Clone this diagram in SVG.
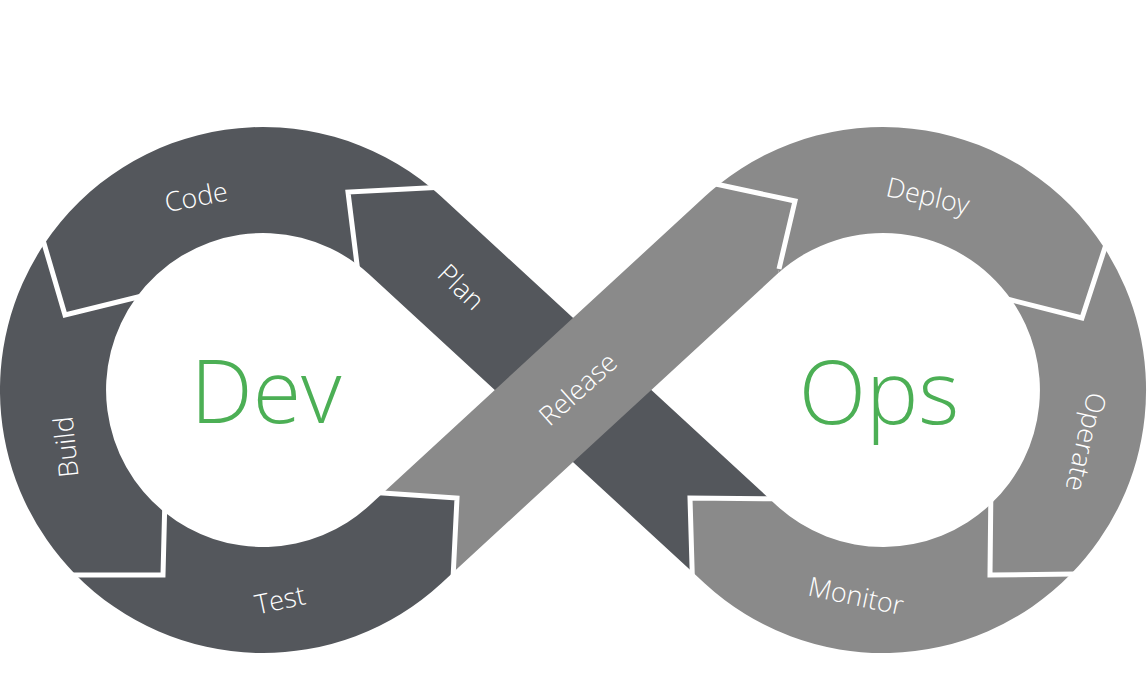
<svg xmlns="http://www.w3.org/2000/svg" width="1148" height="700" viewBox="0 0 1148 700">
<style>
.dark{fill:#54575c}
.light{fill:#8a8a8a}
.lbl{font-family:"Open Sans","Noto Sans","Liberation Sans",sans-serif;font-weight:300;font-size:27px;fill:#ffffff;text-anchor:middle}
.big{font-family:"Open Sans","Noto Sans","Liberation Sans",sans-serif;font-weight:300;font-size:88px;fill:#4caf55;text-anchor:middle}
.sep{fill:none;stroke:#ffffff;stroke-width:5;stroke-linejoin:miter;stroke-linecap:butt}
</style>
<rect width="1148" height="700" fill="#ffffff"/>
<g id="code">
<path class="dark" d="M431.1,187.7 A263,263 0 0 0 44.2,244.1 L65,315 L136.2,297.5 A157,157 0 0 1 357,264.3 L348,192 Z"/>
<text class="lbl" transform="translate(196,197) rotate(-11)" dy="0.35em">Code</text>
</g>
<g id="build">
<path class="dark" d="M44.2,244.1 A263,263 0 0 0 75.4,574.4 L163,575 L164.6,512.3 A157,157 0 0 1 136.2,297.5 L65,315 Z"/>
<text class="lbl" transform="translate(66,447) rotate(-96)" dy="0.35em">Build</text>
</g>
<g id="test">
<path class="dark" d="M75.4,574.4 A263,263 0 0 0 441.16,583.46 L453.3,572.3 L457,498 L382.96,492.96 L369.35,505.49 A157,157 0 0 1 164.6,512.3 L163,575 Z"/>
<text class="lbl" transform="translate(280,600) rotate(-12)" dy="0.35em">Test</text>
</g>
<g id="plan">
<path class="dark" d="M692.19,571.81 L369.35,274.51 A157,157 0 0 0 357,264.3 L348,192 L431.1,187.7 A263,263 0 0 1 441.16,196.54 L769.32,498.74 L690,498 Z"/>
<text class="lbl" transform="translate(461,287) rotate(44)" dy="0.35em">Plan</text>
</g>
<g id="release">
<path class="light" d="M453.3,572.3 L776.65,274.51 L778.1,273.2 L795,201 L718.6,184.8 A263,263 0 0 0 704.84,196.54 L382.96,492.96 L457,498 Z"/>
<text class="lbl" transform="translate(578,389) rotate(-42)" dy="0.35em">Release</text>
</g>
<g id="deploy">
<path class="light" d="M718.6,184.8 A263,263 0 0 1 1104.6,248.3 L1082,318 L1011.7,300.2 A157,157 0 0 0 778.1,273.2 L795,201 Z"/>
<text class="lbl" transform="translate(928,196) rotate(13)" dy="0.35em">Deploy</text>
</g>
<g id="operate">
<path class="light" d="M1104.6,248.3 A263,263 0 0 1 1070.9,574.1 L990,575 L990.8,504.1 A157,157 0 0 0 1011.7,300.2 L1082,318 Z"/>
<text class="lbl" transform="translate(1086,442) rotate(103)" dy="0.35em">Operate</text>
</g>
<g id="monitor">
<path class="light" d="M1070.9,574.1 A263,263 0 0 1 704.84,583.46 L692.19,571.81 L690,498 L769.32,498.74 L776.65,505.49 A157,157 0 0 0 990.8,504.1 L990,575 Z"/>
<text class="lbl" transform="translate(856,596) rotate(12)" dy="0.35em">Monitor</text>
</g>
<g id="connectors">
<polyline class="sep" points="435.5,187.5 348,192 357.5,268.5"/>
<polyline class="sep" points="43,240 65,315 140,296.5"/>
<polyline class="sep" points="71,575 163,575 164.7,508"/>
<polyline class="sep" points="453.1,576.5 457,498 379,492.7"/>
<polyline class="sep" points="714.5,183.8 795,201 779,269"/>
<polyline class="sep" points="1106,244.5 1082,318 1008,299.2"/>
<polyline class="sep" points="1075,574 990,575 990.8,500"/>
<polyline class="sep" points="692.3,576 690,498 773,498.8"/>
</g>
<g id="dev"><text class="big" x="266" y="423">Dev</text></g>
<g id="ops"><text class="big" x="879" y="424">Ops</text></g>
</svg>
